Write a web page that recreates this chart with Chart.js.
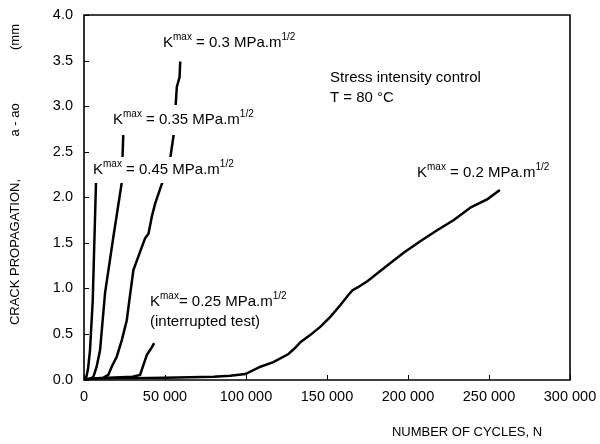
<!DOCTYPE html>
<html>
<head>
<meta charset="utf-8">
<script src="https://cdn.jsdelivr.net/npm/chart.js@4/dist/chart.umd.min.js"></script>
<style>
  html, body { margin: 0; padding: 0; background: #fff; }
  #wrap { width: 600px; height: 444px; position: relative; }
</style>
</head>
<body>
<div id="wrap"><canvas id="crackChart"></canvas></div>
<script>
// Crack growth curves: cycles N, crack propagation a - ao (mm)
const k045X = [0, 1500, 2500, 3700, 5400, 7400];
const k045Y = [0, 0.03, 0.12, 0.32, 0.87, 2.16];

const k035X = [0, 4000, 5800, 7800, 9900, 13000, 18000, 23300, 23800, 24300];
const k035Y = [0, 0.01, 0.03, 0.14, 0.32, 0.95, 1.55, 2.16, 2.45, 2.72];

const k030X = [0, 12000, 15000, 17100, 20200, 23300, 26400, 28000, 30500, 34600, 37700, 39800, 41900, 43900, 46000, 48100, 52800, 54300, 55300, 56000, 57300, 59000, 59400];
const k030Y = [0, 0.02, 0.05, 0.14, 0.25, 0.43, 0.65, 0.87, 1.2, 1.4, 1.55, 1.6, 1.79, 1.93, 2.04, 2.15, 2.37, 2.56, 2.68, 2.85, 3.21, 3.32, 3.49];

const k025X = [0, 15000, 30000, 34600, 36700, 38800, 41400, 43300];
const k025Y = [0, 0.02, 0.03, 0.05, 0.16, 0.27, 0.34, 0.40];

const k020X = [0, 20000, 50000, 80000, 90300, 99600, 108900, 116900, 126200, 130500, 133600, 139800, 146000, 152200, 158400, 163300, 165800, 168900, 175100, 187200, 197300, 207800, 218200, 228300, 238800, 249100, 256700];
const k020Y = [0, 0.01, 0.02, 0.03, 0.04, 0.06, 0.14, 0.19, 0.28, 0.35, 0.41, 0.49, 0.58, 0.69, 0.82, 0.93, 0.98, 1.01, 1.08, 1.25, 1.39, 1.52, 1.64, 1.75, 1.89, 1.98, 2.08];

const xTicks = [0, 50000, 100000, 150000, 200000, 250000, 300000];
const yTicks = [0, 0.5, 1.0, 1.5, 2.0, 2.5, 3.0, 3.5, 4.0];

const FONT = '"Liberation Sans", Arial, sans-serif';

function toPoints(xs, ys) {
    return xs.map((x, i) => ({ x: x, y: ys[i] }));
}

function curve(xs, ys) {
    return {
        data: toPoints(xs, ys),
        borderColor: '#000',
        borderWidth: 2.5,
        pointRadius: 0,
        tension: 0,
        fill: false
    };
}

// text with superscripts: parts = [[text, isSup], ...]
function drawRich(ctx, x, y, parts, draw) {
    let cx = x;
    parts.forEach(p => {
        ctx.font = (p[1] ? '10px ' : '15px ') + FONT;
        if (draw) ctx.fillText(p[0], cx, p[1] ? y - 6 : y);
        cx += ctx.measureText(p[0]).width;
    });
    return cx - x;
}

// white box behind the label hides the curves, like in the printed figure
function label(ctx, x, y, parts, boxH) {
    ctx.save();
    const w = drawRich(ctx, x, y, parts, false);
    ctx.fillStyle = '#fff';
    ctx.fillRect(x - 2, y - boxH / 2, w + 4, boxH);
    ctx.fillStyle = '#000';
    drawRich(ctx, x, y, parts, true);
    ctx.restore();
}

const annotations = {
    id: 'annotations',
    afterDraw(chart) {
        const ctx = chart.ctx;
        const area = chart.chartArea;
        const xs = chart.scales.x;
        const ys = chart.scales.y;

        ctx.save();
        ctx.textBaseline = 'middle';
        ctx.textAlign = 'left';
        label(ctx, 163, 43, [['K', false], ['max', true], [' = 0.3 MPa.m', false], ['1/2', true]], 22);
        label(ctx, 113, 120, [['K', false], ['max', true], [' = 0.35 MPa.m', false], ['1/2', true]], 30);
        label(ctx, 93, 170, [['K', false], ['max', true], [' = 0.45 MPa.m', false], ['1/2', true]], 26);
        label(ctx, 150, 302, [['K', false], ['max', true], ['= 0.25 MPa.m', false], ['1/2', true]], 20);
        label(ctx, 150, 322, [['(interrupted test)', false]], 20);
        label(ctx, 417, 173, [['K', false], ['max', true], [' = 0.2 MPa.m', false], ['1/2', true]], 22);
        label(ctx, 330, 78, [['Stress intensity control', false]], 20);
        label(ctx, 330, 98, [['T = 80 \u00B0C', false]], 20);
        ctx.restore();

        ctx.save();
        // frame
        const l = Math.round(area.left), t = Math.round(area.top);
        const r = Math.round(area.right), b = Math.round(area.bottom);
        ctx.strokeStyle = '#000';
        ctx.lineWidth = 1.6;
        ctx.beginPath();
        ctx.moveTo(l, t);
        ctx.lineTo(r, t);
        ctx.lineTo(r, b);
        ctx.lineTo(l, b);
        ctx.closePath();
        ctx.stroke();
        // inward tick marks
        ctx.lineWidth = 1;
        yTicks.forEach(v => {
            const py = Math.round(ys.getPixelForValue(v)) + 0.5;
            ctx.beginPath();
            ctx.moveTo(l, py);
            ctx.lineTo(l + 5, py);
            ctx.stroke();
        });
        xTicks.forEach(v => {
            const px = Math.round(xs.getPixelForValue(v)) + 0.5;
            ctx.beginPath();
            ctx.moveTo(px, b);
            ctx.lineTo(px, b - 5);
            ctx.stroke();
        });

        // axis titles
        ctx.fillStyle = '#000';
        ctx.font = '13px ' + FONT;
        ctx.textAlign = 'center';
        ctx.textBaseline = 'middle';
        ctx.fillText('NUMBER OF CYCLES, N', 467, 432);
        ctx.translate(15, 0);
        ctx.rotate(-Math.PI / 2);
        ctx.fillText('CRACK PROPAGATION,', -252, 0);
        ctx.fillText('a - ao', -120, 0);
        ctx.fillText('(mm', -37, 0);
        ctx.restore();
    }
};

new Chart(document.getElementById('crackChart').getContext('2d'), {
    type: 'line',
    data: {
        datasets: [
            curve(k045X, k045Y),
            curve(k035X, k035Y),
            curve(k030X, k030Y),
            curve(k025X, k025Y),
            curve(k020X, k020Y)
        ]
    },
    options: {
        responsive: true,
        maintainAspectRatio: false,
        animation: false,
        layout: { padding: { left: 0, right: 30, top: 15, bottom: 0 } },
        plugins: {
            legend: { display: false },
            tooltip: { enabled: false }
        },
        scales: {
            x: {
                type: 'linear',
                min: 0,
                max: 300000,
                afterBuildTicks: s => { s.ticks = xTicks.map(v => ({ value: v })); },
                afterFit: s => { s.height = 64.5; s.paddingLeft = 0; s.paddingRight = 0; },
                grid: { display: false, drawTicks: false },
                border: { display: false },
                ticks: {
                    color: '#000',
                    padding: 9,
                    font: { family: FONT, size: 14.5 },
                    maxRotation: 0,
                    callback: v => v === 0 ? '0' : (v / 1000) + ' 000'
                }
            },
            y: {
                type: 'linear',
                min: 0,
                max: 4,
                afterBuildTicks: s => { s.ticks = yTicks.map(v => ({ value: v })); },
                afterFit: s => { s.width = 84; s.paddingTop = 0; s.paddingBottom = 0; },
                grid: { display: false, drawTicks: false },
                border: { display: false },
                ticks: {
                    color: '#000',
                    padding: 11,
                    font: { family: FONT, size: 14.5 },
                    callback: v => v.toFixed(1)
                }
            }
        }
    },
    plugins: [annotations]
});
</script>
</body>
</html>
